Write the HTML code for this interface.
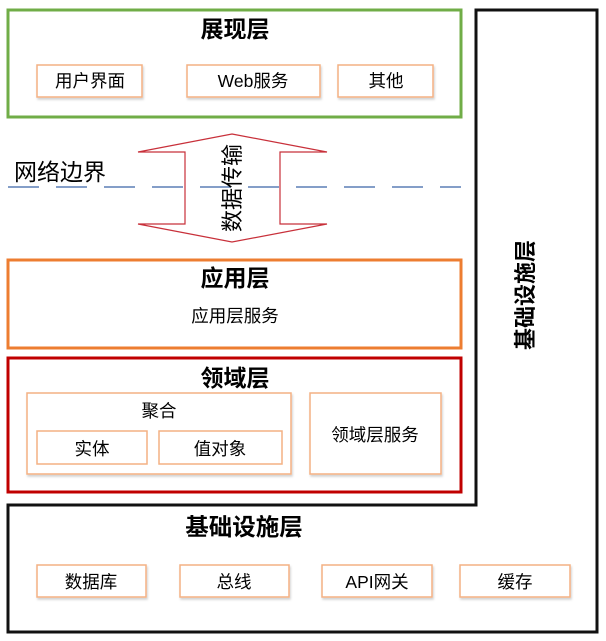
<!DOCTYPE html>
<html><head><meta charset="utf-8"><style>
body{margin:0;background:#fff;}
svg text{font-family:"Liberation Sans","Noto Sans CJK SC",sans-serif;fill:#000;}
</style></head><body>
<svg width="606" height="636" viewBox="0 0 606 636" xmlns="http://www.w3.org/2000/svg">
<defs><filter id="sh" x="-10%" y="-10%" width="130%" height="140%"><feDropShadow dx="1" dy="2" stdDeviation="1" flood-color="#000" flood-opacity="0.18"/></filter></defs>
<rect width="606" height="636" fill="#fff"/>
<polygon points="476,10 597,10 597,632 8,632 8,505 476,505" fill="none" stroke="#111" stroke-width="3"/>
<text x="0" y="0" font-size="22" font-weight="bold" text-anchor="middle" transform="translate(533,295) rotate(-90)">基础设施层</text>
<rect x="8" y="10" width="453" height="107" fill="none" stroke="#70ad47" stroke-width="3"/>
<text x="235" y="37" font-size="23" font-weight="bold" text-anchor="middle">展现层</text>
<g fill="#fff" stroke="#f4b183" stroke-width="1.5" filter="url(#sh)">
<rect x="37" y="65" width="105" height="32"/><rect x="187" y="65" width="133" height="32"/><rect x="338" y="65" width="95" height="32"/>
</g>
<g font-size="17.5" text-anchor="middle">
<text x="90" y="87">用户界面</text><text x="253" y="87">Web服务</text><text x="386" y="87">其他</text>
</g>
<text x="14" y="180" font-size="23">网络边界</text>
<line x1="8" y1="187" x2="461" y2="187" stroke="#5b7fb5" stroke-width="1.5" stroke-dasharray="31,17"/>
<polygon points="232,134 327,152 280,152 280,224 327,224 232,242 138,224 185,224 185,152 138,152" fill="none" stroke="#c8303a" stroke-width="1.2"/>
<text x="0" y="0" font-size="22" text-anchor="middle" transform="translate(240,188) rotate(-90)">数据传输</text>
<rect x="8" y="260" width="453" height="88" fill="none" stroke="#ed7d31" stroke-width="3"/>
<text x="235" y="286" font-size="23" font-weight="bold" text-anchor="middle">应用层</text>
<text x="235" y="322" font-size="17.5" text-anchor="middle">应用层服务</text>
<rect x="8" y="358" width="453" height="134" fill="none" stroke="#c00000" stroke-width="3"/>
<text x="235" y="386" font-size="23" font-weight="bold" text-anchor="middle">领域层</text>
<g fill="#fff" stroke="#f4b183" stroke-width="1.5" filter="url(#sh)">
<rect x="27" y="393" width="264" height="81"/><rect x="310" y="393" width="131" height="81"/>
<rect x="37" y="431" width="110" height="33"/><rect x="159" y="431" width="123" height="33"/>
</g>
<g font-size="17.5" text-anchor="middle">
<text x="159" y="417">聚合</text><text x="92" y="455">实体</text><text x="220" y="455">值对象</text><text x="375" y="441">领域层服务</text>
</g>
<text x="244" y="535" font-size="23.5" font-weight="bold" text-anchor="middle">基础设施层</text>
<g fill="#fff" stroke="#f4b183" stroke-width="1.5" filter="url(#sh)">
<rect x="37" y="565" width="109" height="32"/><rect x="180" y="565" width="109" height="32"/><rect x="322" y="565" width="110" height="32"/><rect x="460" y="565" width="110" height="32"/>
</g>
<g font-size="17.5" text-anchor="middle">
<text x="91" y="588">数据库</text><text x="234" y="588">总线</text><text x="377" y="588">API网关</text><text x="515" y="588">缓存</text>
</g>
</svg>
</body></html>
